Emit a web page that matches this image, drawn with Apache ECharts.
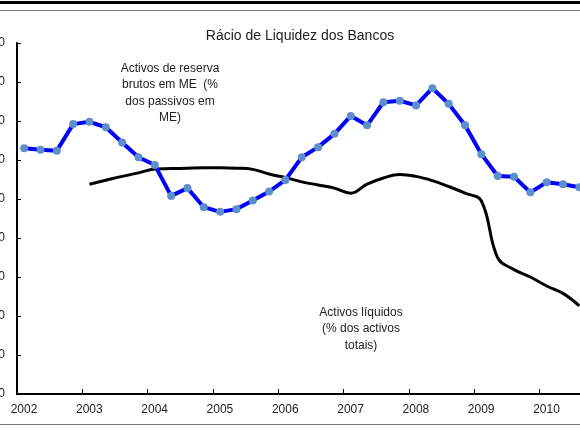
<!DOCTYPE html>
<html>
<head>
<meta charset="utf-8">
<script src="https://cdn.jsdelivr.net/npm/echarts@6/dist/echarts.min.js"></script>
<style>
  html, body { margin: 0; padding: 0; background: #fff; }
  #chart { width: 580px; height: 430px; }
</style>
</head>
<body>
<div id="chart"></div>
<script>
// trimestres (T1..T4)
const quarters = [
  '2002T1', '2002T2', '2002T3', '2002T4',
  '2003T1', '2003T2', '2003T3', '2003T4',
  '2004T1', '2004T2', '2004T3', '2004T4',
  '2005T1', '2005T2', '2005T3', '2005T4',
  '2006T1', '2006T2', '2006T3', '2006T4',
  '2007T1', '2007T2', '2007T3', '2007T4',
  '2008T1', '2008T2', '2008T3', '2008T4',
  '2009T1', '2009T2', '2009T3', '2009T4',
  '2010T1', '2010T2', '2010T3'
]

// Activos de reserva brutos em ME (% dos passivos em ME)
const reservas = [
  63.0, 62.6, 62.4, 69.2,
  69.8, 68.4, 64.5, 60.7,
  58.7, 50.8, 52.8, 47.9,
  46.7, 47.4, 49.6, 51.9,
  54.9, 60.7, 63.3, 66.7,
  71.3, 68.9, 74.8, 75.2,
  74.0, 78.4, 74.4, 68.9,
  61.5, 55.9, 55.7, 51.7,
  54.3, 53.8, 53.0
]

// Activos liquidos (% dos activos totais), desde 2003T1
const liquidosStart = 4
const liquidos = [
  53.8, 54.8, 55.8, 56.7,
  57.7, 57.8, 57.9, 58.0,
  58.0, 57.9, 57.6, 56.4,
  55.5, 54.4, 53.6, 52.8,
  51.5, 53.8, 55.4, 56.3,
  55.8, 54.7, 53.2, 51.5,
  49.5, 34.9, 31.9, 30.0,
  27.7, 25.8, 22.6
]

const years = [2002, 2003, 2004, 2005, 2006, 2007, 2008, 2009, 2010]
const yTicks = [0, 10, 20, 30, 40, 50, 60, 70, 80, 90]

// posição no eixo temporal (meio do trimestre)
function toTime(q) {
  const y = parseInt(q.slice(0, 4), 10)
  const n = parseInt(q.slice(5), 10)
  return y + (n - 1) * 0.25 + 0.11
}

const reservasData = quarters.map((q, i) => [toTime(q), reservas[i]])
const liquidosData = liquidos.map((v, i) => [toTime(quarters[liquidosStart + i]), v])

const chart = echarts.init(document.getElementById('chart'), null, { renderer: 'canvas' })

const textColor = '#222'
const font = "'Liberation Sans', Arial, sans-serif"

const option = {
  animation: false,
  backgroundColor: '#fff',
  title: {
    text: 'Rácio de Liquidez dos Bancos',
    left: 295,
    top: 24,
    textAlign: 'center',
    textStyle: {
      fontFamily: font,
      fontSize: 14,
      fontWeight: 'normal',
      color: textColor
    }
  },
  grid: {
    left: 17,
    right: 0,
    top: 43,
    bottom: 36,
    containLabel: false,
    outerBoundsMode: 'none'
  },
  xAxis: {
    type: 'value',
    min: 2002,
    max: 2010.62,
    interval: 1,
    axisLine: { lineStyle: { color: '#000', width: 2 } },
    axisTick: {
      inside: true,
      length: 5,
      customValues: years,
      lineStyle: { color: '#000', width: 1 }
    },
    axisLabel: {
      customValues: years,
      margin: 10,
      padding: [0, 0, 0, 14],
      fontFamily: font,
      fontSize: 12,
      color: textColor,
      formatter: function (v) { return String(v) }
    },
    splitLine: { show: false }
  },
  yAxis: {
    type: 'value',
    min: 0,
    max: 90,
    interval: 10,
    axisLine: { show: true, lineStyle: { color: '#000', width: 2 } },
    axisTick: {
      show: true,
      inside: true,
      length: 4,
      lineStyle: { color: '#000', width: 1 }
    },
    axisLabel: {
      customValues: yTicks,
      margin: 12,
      fontFamily: font,
      fontSize: 12,
      color: textColor
    },
    splitLine: { show: false }
  },
  graphic: [
    {
      type: 'line',
      shape: { x1: 0, y1: 2.5, x2: 580, y2: 2.5 },
      style: { stroke: '#000', lineWidth: 3 }
    },
    {
      type: 'line',
      shape: { x1: 0, y1: 10.5, x2: 580, y2: 10.5 },
      style: { stroke: '#777', lineWidth: 1 }
    },
    {
      type: 'line',
      shape: { x1: 0, y1: 424.5, x2: 580, y2: 424.5 },
      style: { stroke: '#777', lineWidth: 1 }
    },
    {
      type: 'text',
      x: 170,
      y: 60,
      style: {
        text: 'Activos de reserva\nbrutos em ME  (%\ndos passivos em\nME)',
        textAlign: 'center',
        fontFamily: font,
        fontSize: 12,
        lineHeight: 16.5,
        fill: textColor
      }
    },
    {
      type: 'text',
      x: 361,
      y: 304,
      style: {
        text: 'Activos líquidos\n(% dos activos\ntotais)',
        textAlign: 'center',
        fontFamily: font,
        fontSize: 12,
        lineHeight: 16.5,
        fill: textColor
      }
    }
  ],
  series: [
    {
      name: 'Activos líquidos',
      type: 'line',
      data: liquidosData,
      smooth: 0.4,
      showSymbol: false,
      lineStyle: { color: '#000', width: 3 },
      z: 2
    },
    {
      name: 'Activos de reserva',
      type: 'line',
      data: reservasData,
      symbol: 'circle',
      symbolSize: 8,
      itemStyle: { color: '#5E8ECB' },
      lineStyle: { color: '#0000FF', width: 4 },
      z: 3
    }
  ]
}

chart.setOption(option)
</script>
</body>
</html>
